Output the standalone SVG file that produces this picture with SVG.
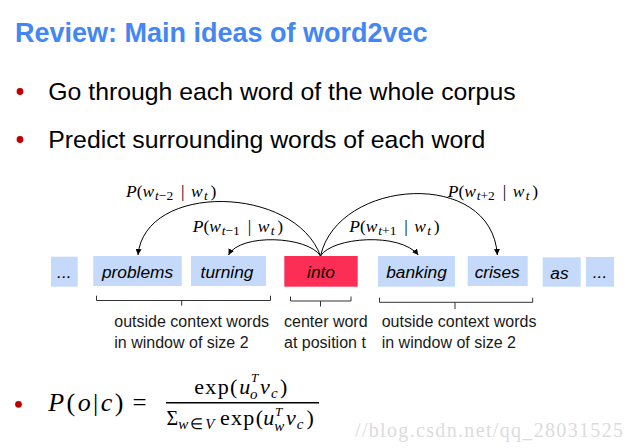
<svg xmlns="http://www.w3.org/2000/svg" width="636" height="448" viewBox="0 0 636 448">
<style>
.title{font-family:"Liberation Sans",Arial,sans-serif;font-weight:bold;font-size:27px;fill:#4386f5}
.bt{font-family:"Liberation Sans",Arial,sans-serif;font-size:24.8px;fill:#000}
.dot{fill:#c00000}
.wb{fill:#c5dafa}
.cb{fill:#fd2e56}
.wt{font-family:"Liberation Sans",Arial,sans-serif;font-style:italic;font-size:17.3px;fill:#000;text-anchor:middle}
.lab{font-family:"Liberation Serif","Times New Roman",serif;font-size:17.5px;fill:#000}
.it{font-style:italic}
.sub{font-size:13.5px}
.arc{fill:none;stroke:#000;stroke-width:1}
.br{fill:none;stroke:#333;stroke-width:1}
.ct{font-family:"Liberation Sans",Arial,sans-serif;font-size:16px;fill:#1a1a1a}
.fm{font-family:"Liberation Serif","Times New Roman",serif;font-size:22px;fill:#000}
.fs{font-size:15px}
.sup{font-size:13px}
.wm{font-family:"Liberation Serif","Times New Roman",serif;font-size:20px;fill:#dcdcdc}
</style>
<defs>
<marker id="ah" viewBox="0 0 10 10" refX="10" refY="5" markerWidth="6" markerHeight="6" orient="auto" markerUnits="userSpaceOnUse">
<path d="M0,0 L10,5 L0,10 z" fill="#000"/>
</marker>
</defs>

<g id="title"><text class="title" x="15" y="41.7">Review: Main ideas of word2vec</text></g>

<g id="bullet1"><circle class="dot" cx="20" cy="91.5" r="3.4"/><text class="bt" x="48.3" y="100">Go through each word of the whole corpus</text></g>
<g id="bullet2"><circle class="dot" cx="20" cy="139.5" r="3.4"/><text class="bt" x="48.3" y="148.3">Predict surrounding words of each word</text></g>

<g id="connectors">
<path class="arc" d="M320.5,256 C295,185 145,182 138,255" marker-end="url(#ah)"/>
<path class="arc" d="M320.5,256 C308,236 240,233 228.5,255" marker-end="url(#ah)"/>
<path class="arc" d="M320.5,256 C332,237 400,232 418.3,255" marker-end="url(#ah)"/>
<path class="arc" d="M320.5,256 C338,178 492,168 497.3,255" marker-end="url(#ah)"/>
</g>

<g id="lab-m2" transform="translate(126,196.7)">
<text class="lab"><tspan x="0" class="it">P</tspan><tspan>(</tspan><tspan class="it">w</tspan><tspan x="29" dy="3" class="sub"><tspan class="it">t</tspan>−2</tspan><tspan x="55" dy="-3">|</tspan><tspan x="65" class="it">w</tspan><tspan x="78" dy="3" class="sub it">t</tspan><tspan x="84.5" dy="-3">)</tspan></text>
</g>
<g id="lab-m1" transform="translate(192.7,232.3)">
<text class="lab"><tspan x="0" class="it">P</tspan><tspan>(</tspan><tspan class="it">w</tspan><tspan x="29" dy="3" class="sub"><tspan class="it">t</tspan>−1</tspan><tspan x="55" dy="-3">|</tspan><tspan x="65" class="it">w</tspan><tspan x="78" dy="3" class="sub it">t</tspan><tspan x="84.5" dy="-3">)</tspan></text>
</g>
<g id="lab-p1" transform="translate(349.3,232.3)">
<text class="lab"><tspan x="0" class="it">P</tspan><tspan>(</tspan><tspan class="it">w</tspan><tspan x="29" dy="3" class="sub"><tspan class="it">t</tspan>+1</tspan><tspan x="55" dy="-3">|</tspan><tspan x="65" class="it">w</tspan><tspan x="78" dy="3" class="sub it">t</tspan><tspan x="84.5" dy="-3">)</tspan></text>
</g>
<g id="lab-p2" transform="translate(447.7,196.7)">
<text class="lab"><tspan x="0" class="it">P</tspan><tspan>(</tspan><tspan class="it">w</tspan><tspan x="29" dy="3" class="sub"><tspan class="it">t</tspan>+2</tspan><tspan x="55" dy="-3">|</tspan><tspan x="65" class="it">w</tspan><tspan x="78" dy="3" class="sub it">t</tspan><tspan x="84.5" dy="-3">)</tspan></text>
</g>

<g id="w-dots1"><rect class="wb" x="51" y="256.7" width="26.7" height="30"/><text class="wt" x="64.3" y="278">...</text></g>
<g id="w-problems"><rect class="wb" x="93.3" y="256" width="88.4" height="30"/><text class="wt" x="137.5" y="278">problems</text></g>
<g id="w-turning"><rect class="wb" x="191" y="256" width="75" height="30"/><text class="wt" x="227" y="278">turning</text></g>
<g id="w-into"><rect class="cb" x="284.3" y="256" width="73.4" height="30.7"/><text class="wt" x="321" y="278">into</text></g>
<g id="w-banking"><rect class="wb" x="378" y="256" width="77" height="30.7"/><text class="wt" x="416.5" y="278">banking</text></g>
<g id="w-crises"><rect class="wb" x="467.7" y="256" width="60" height="30"/><text class="wt" x="497.2" y="278">crises</text></g>
<g id="w-as"><rect class="wb" x="542.7" y="257.3" width="38" height="29.4"/><text class="wt" x="559.5" y="279">as</text></g>
<g id="w-dots2"><rect class="wb" x="586" y="257" width="28" height="29.7"/><text class="wt" x="600" y="278">...</text></g>

<g id="brace-left"><path class="br" d="M96.5,295.7 V300.5 H270.5 V295.7 M181.7,300.5 V305.7"/><text class="ct" x="114.3" y="327.3">outside context words</text><text class="ct" x="114.3" y="348.3">in window of size 2</text></g>
<g id="brace-center"><path class="br" d="M290.5,296.5 V301 H351 V296.5 M320.5,301 V306.5"/><text class="ct" x="284" y="327.3">center word</text><text class="ct" x="284" y="348.3">at position t</text></g>
<g id="brace-right"><path class="br" d="M379.5,297.7 V302.3 H532.7 V297.7 M455,302.3 V309"/><text class="ct" x="381.7" y="327.3">outside context words</text><text class="ct" x="381.7" y="348.3">in window of size 2</text></g>

<g id="formula">
<circle class="dot" cx="18.5" cy="404.3" r="3.4"/>
<text class="fm" x="48.3" y="410.7" textLength="75" lengthAdjust="spacing" style="font-size:26px"><tspan class="it">P</tspan>(<tspan class="it">o</tspan>|<tspan class="it">c</tspan>)</text>
<text class="fm" x="132.5" y="410.7" style="font-size:25px">=</text>
<text class="fm" x="194.3" y="394" textLength="43" lengthAdjust="spacing">exp(</text>
<text class="fm it" x="239.3" y="394">u</text>
<text class="fm sup it" x="251" y="382">T</text>
<text class="fm fs it" x="250" y="398.5">o</text>
<text class="fm it" x="260" y="394">v</text>
<text class="fm fs it" x="271" y="397.5">c</text>
<text class="fm" x="280" y="394">)</text>
<line x1="166" y1="402.7" x2="319" y2="402.7" stroke="#000" stroke-width="1.6"/>
<text class="fm" x="166.5" y="425" style="font-size:20px">Σ</text>
<text class="fm fs" x="178.3" y="428.5" textLength="36" lengthAdjust="spacing"><tspan class="it">w</tspan>∈<tspan class="it">V</tspan></text>
<text class="fm" x="220" y="425" textLength="43" lengthAdjust="spacing">exp(</text>
<text class="fm it" x="263.3" y="425">u</text>
<text class="fm sup it" x="275" y="415.5">T</text>
<text class="fm fs it" x="274.3" y="430.5">w</text>
<text class="fm it" x="286" y="425">v</text>
<text class="fm fs it" x="296.7" y="428.5">c</text>
<text class="fm" x="306.5" y="425">)</text>
</g>

<text class="wm" x="355" y="436.7" textLength="268" lengthAdjust="spacing">//blog.csdn.net/qq_28031525</text>
</svg>
